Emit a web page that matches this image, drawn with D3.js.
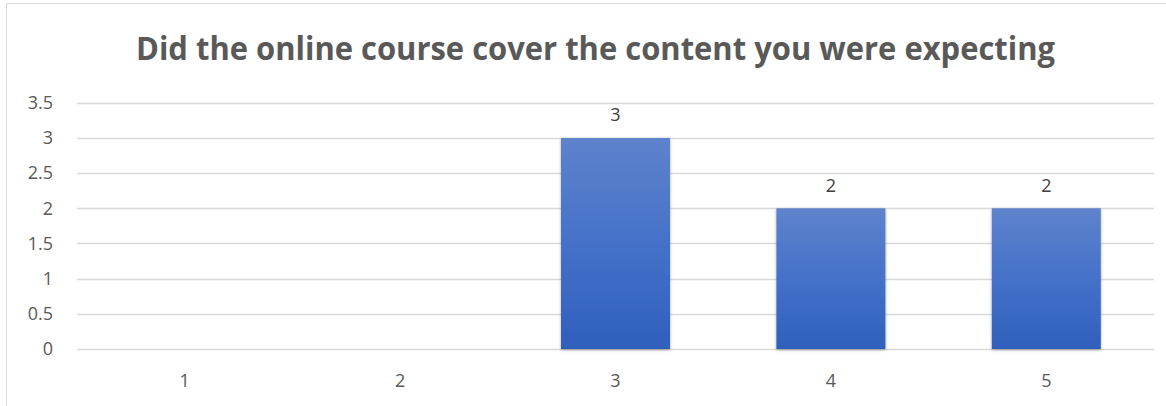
<!DOCTYPE html>
<html><head><meta charset="utf-8">
<script src="https://cdn.jsdelivr.net/npm/d3@7"></script>
<style>html,body{margin:0;padding:0;background:#fff;}svg{display:block;}</style>
</head><body>
<svg id="chart" width="1166" height="406"></svg>
<script>
const titleText = "Did the online course cover the content you were expecting";
const categories = ["1", "2", "3", "4", "5"];
const values = [0, 0, 3, 2, 2];
const yTicks = [0, 0.5, 1, 1.5, 2, 2.5, 3, 3.5];

const svg = d3.select("#chart");
const W = 1166, H = 406;
const font = "Open Sans, 'Noto Sans', sans-serif";
const textColor = "#595959";

// chart border
svg.append("rect").attr("x", 6.5).attr("y", 3.5).attr("width", W).attr("height", H)
  .attr("fill", "#fff").attr("stroke", "#d9d9d9").attr("stroke-width", 1);

const plot = {left: 77, right: 1154, top: 102.8, bottom: 349};
const x = d3.scaleBand().domain(categories).range([plot.left, plot.right]).padding(0);
const y = d3.scaleLinear().domain([0, 3.5]).range([plot.bottom, plot.top]);

const defs = svg.append("defs");
const grad = defs.append("linearGradient").attr("id", "barGrad").attr("x1", 0).attr("y1", 0).attr("x2", 0).attr("y2", 1);
grad.append("stop").attr("offset", "0%").attr("stop-color", "#5e83cc");
grad.append("stop").attr("offset", "50%").attr("stop-color", "#4571c9");
grad.append("stop").attr("offset", "100%").attr("stop-color", "#2f5fbb");
const f = defs.append("filter").attr("id", "shadow").attr("x", "-10%").attr("y", "-10%").attr("width", "120%").attr("height", "120%");
f.append("feDropShadow").attr("dx", 0).attr("dy", 1).attr("stdDeviation", 1.5).attr("flood-color", "#000").attr("flood-opacity", 0.35);

// gridlines
svg.append("g").selectAll("line").data(yTicks).join("line")
  .attr("x1", plot.left).attr("x2", plot.right)
  .attr("y1", d => Math.round(y(d)) + 0.5).attr("y2", d => Math.round(y(d)) + 0.5)
  .attr("stroke", "#d9d9d9").attr("stroke-width", 1.3);

// y axis
const yAxis = svg.append("g").attr("transform", `translate(${plot.left},0)`)
  .call(d3.axisLeft(y).tickValues(yTicks).tickSize(0).tickPadding(24).tickFormat(d => String(d)));
yAxis.select(".domain").remove();
yAxis.selectAll("text").attr("font-family", font).attr("font-size", 18).attr("fill", textColor)
  .attr("textLength", null);

// x axis
const xAxis = svg.append("g").attr("transform", `translate(0,${plot.bottom})`)
  .call(d3.axisBottom(x).tickSize(0).tickPadding(0));
xAxis.select(".domain").remove();
xAxis.selectAll("text").attr("font-family", font).attr("font-size", 18).attr("fill", textColor)
  .attr("dy", null).attr("y", 38);

// bars
const barW = x.bandwidth() * 0.506;
const bars = svg.append("g");
bars.selectAll("rect").data(values.map((v, i) => ({c: categories[i], v})).filter(d => d.v > 0)).join("rect")
  .attr("x", d => x(d.c) + (x.bandwidth() - barW) / 2)
  .attr("y", d => y(d.v))
  .attr("width", barW)
  .attr("height", d => y(0) - y(d.v))
  .attr("fill", "url(#barGrad)")
  .attr("filter", "url(#shadow)");

// data labels
svg.append("g").selectAll("text").data(values.map((v, i) => ({c: categories[i], v})).filter(d => d.v > 0)).join("text")
  .attr("x", d => x(d.c) + x.bandwidth() / 2)
  .attr("y", d => y(d.v) - 16.5)
  .attr("text-anchor", "middle")
  .attr("font-family", font).attr("font-size", 18).attr("fill", "#404040")
  .text(d => d.v);

// title
svg.append("text").attr("x", 136).attr("y", 60)
  .attr("font-family", font).attr("font-weight", "bold").attr("font-size", 32).attr("fill", textColor)
  .attr("textLength", 919).attr("lengthAdjust", "spacingAndGlyphs")
  .text(titleText);
</script>
</body></html>
